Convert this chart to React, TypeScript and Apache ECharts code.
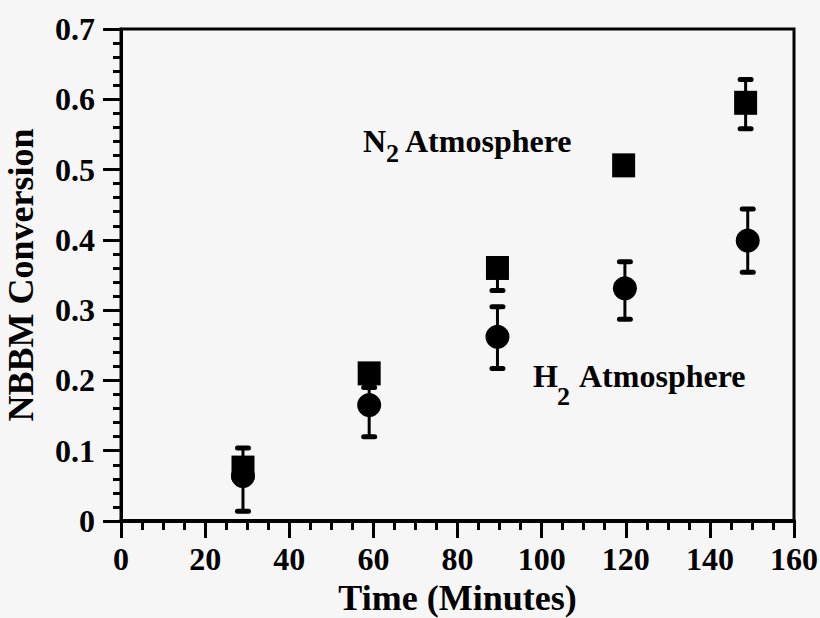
import React, { useEffect, useRef } from "react";
import * as echarts from "echarts";

// Reaction time (minutes)
const times = [29, 59, 89.5, 119.5, 148.5];

// N2 atmosphere conversion (squares)
const n2Values = [0.076, 0.21, 0.36, 0.506, 0.595];
const n2Low = [0.076, 0.21, 0.328, 0.506, 0.558];
const n2High = [0.104, 0.21, 0.36, 0.506, 0.628];

// H2 atmosphere conversion (circles)
const h2Times = [29, 59, 89.5, 119.8, 149];
const h2Values = [0.064, 0.165, 0.262, 0.331, 0.399];
const h2Low = [0.014, 0.12, 0.217, 0.287, 0.354];
const h2High = [0.064, 0.19, 0.305, 0.369, 0.444];

const xTicks = { min: 0, max: 160, interval: 20 };
const yTicks = { min: 0, max: 0.7, interval: 0.1 };

const FONT = '"Liberation Serif", "Times New Roman", serif';

function errRender(params: any, api: any) {
  const x = api.value(0);
  const lo = api.value(1);
  const hi = api.value(2);
  const pLo = api.coord([x, lo]);
  const pHi = api.coord([x, hi]);
  const cw = 16;
  return {
    type: "group",
    children: [
      {
        type: "line",
        shape: { x1: pLo[0], y1: pLo[1], x2: pHi[0], y2: pHi[1] },
        style: { stroke: "#000", lineWidth: 3 },
      },
      {
        type: "rect",
        shape: { x: pHi[0] - cw / 2, y: pHi[1] - 2.5, width: cw, height: 5, r: 2.5 },
        style: { fill: "#000" },
      },
      {
        type: "rect",
        shape: { x: pLo[0] - cw / 2, y: pLo[1] - 2.5, width: cw, height: 5, r: 2.5 },
        style: { fill: "#000" },
      },
    ],
  };
}

export default function App() {
  const ref = useRef<HTMLDivElement>(null);
  useEffect(() => {
    document.body.style.margin = "0";
    const chart = echarts.init(ref.current!, null, { renderer: "svg" });
    const labelStyle = { fontFamily: FONT, fontWeight: "bold" as const, fill: "#000" };
    chart.setOption({
      animation: false,
      backgroundColor: "#f6f6f6",
      grid: {
        left: 121,
        right: 26,
        top: 29,
        bottom: 97,
        outerBoundsMode: "none",
        containLabel: false,
        show: true,
        borderColor: "#000",
        borderWidth: 3,
        backgroundColor: "transparent",
      },
      xAxis: {
        type: "value",
        min: xTicks.min,
        max: xTicks.max,
        interval: xTicks.interval,
        name: "Time (Minutes)",
        nameLocation: "middle",
        nameGap: 59,
        nameTextStyle: { fontFamily: FONT, fontWeight: "bold", fontSize: 36, color: "#000" },
        axisLine: { show: true, lineStyle: { color: "#000", width: 4 } },
        axisTick: { show: true, length: 17, lineStyle: { color: "#000", width: 3 } },
        minorTick: { show: true, splitNumber: 4, length: 9, lineStyle: { color: "#000", width: 3 } },
        splitLine: { show: false },
        axisLabel: {
          fontFamily: FONT,
          fontWeight: "bold",
          fontSize: 32,
          color: "#000",
          margin: 22,
        },
      },
      yAxis: {
        type: "value",
        min: yTicks.min,
        max: yTicks.max,
        interval: yTicks.interval,
        name: "NBBM Conversion",
        nameLocation: "middle",
        nameGap: 82,
        nameTextStyle: { fontFamily: FONT, fontWeight: "bold", fontSize: 36, color: "#000" },
        axisLine: { show: true, lineStyle: { color: "#000", width: 3 } },
        axisTick: { show: true, length: 18, lineStyle: { color: "#000", width: 3 } },
        minorTick: { show: true, splitNumber: 5, length: 8, lineStyle: { color: "#000", width: 3 } },
        splitLine: { show: false },
        axisLabel: {
          fontFamily: FONT,
          fontWeight: "bold",
          fontSize: 32,
          color: "#000",
          margin: 26,
          formatter: (v: number) => (v === 0 ? "0" : v.toFixed(1)),
        },
      },
      series: [
        {
          type: "custom",
          name: "N2 error",
          renderItem: errRender,
          data: times.map((t, i) => [t, n2Low[i], n2High[i]]),
          z: 1,
        },
        {
          type: "custom",
          name: "H2 error",
          renderItem: errRender,
          data: h2Times.map((t, i) => [t, h2Low[i], h2High[i]]),
          z: 1,
        },
        {
          type: "scatter",
          name: "N2 Atmosphere",
          symbol: "rect",
          symbolSize: [23, 24],
          itemStyle: { color: "#000", opacity: 1 },
          data: times.map((t, i) => [t, n2Values[i]]),
          z: 3,
        },
        {
          type: "scatter",
          name: "H2 Atmosphere",
          symbol: "circle",
          symbolSize: 24,
          itemStyle: { color: "#000", opacity: 1 },
          data: h2Times.map((t, i) => [t, h2Values[i]]),
          z: 3,
        },
      ],
      graphic: [
        { type: "text", left: 363, top: 125, style: { ...labelStyle, text: "N", fontSize: 32 } },
        { type: "text", left: 386, top: 140, style: { ...labelStyle, text: "2", fontSize: 26 } },
        { type: "text", left: 405, top: 125, style: { ...labelStyle, text: "Atmosphere", fontSize: 32 } },
        { type: "text", left: 533, top: 360, style: { ...labelStyle, text: "H", fontSize: 32 } },
        { type: "text", left: 557, top: 383, style: { ...labelStyle, text: "2", fontSize: 26 } },
        { type: "text", left: 579, top: 360, style: { ...labelStyle, text: "Atmosphere", fontSize: 32 } },
      ],
    });
    return () => chart.dispose();
  }, []);
  return <div ref={ref} style={{ width: 820, height: 618 }} />;
}
